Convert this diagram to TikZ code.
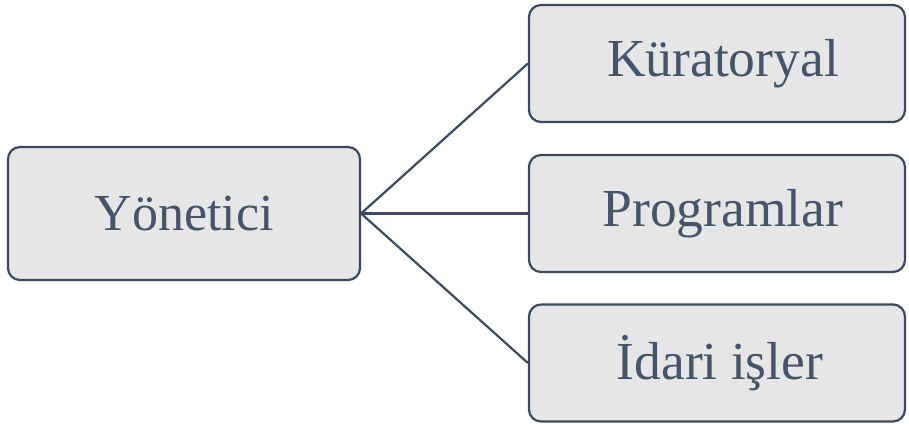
\documentclass[tikz,border=0pt]{standalone}
\usepackage{fontspec}
\setmainfont{Liberation Serif}
\definecolor{edgec}{HTML}{3B4A5E}
\definecolor{txtc}{HTML}{44546A}
\definecolor{fillc}{HTML}{E6E6E6}
\begin{document}
\begin{tikzpicture}[x=1pt,y=-1pt,
  box/.style={draw=edgec, line width=2.2pt, fill=fillc, rounded corners=12pt, text=txtc,
    font=\fontsize{52}{60}\selectfont, inner sep=0pt},
  rbox/.style={box, minimum width=376pt, minimum height=117pt, font=\fontsize{53.5}{60}\selectfont},
  conn/.style={draw=edgec, line width=2.2pt}]
\useasboundingbox (0,0) rectangle (909,423);
\node[box, minimum width=352pt, minimum height=133pt] (yon) at (184,213.5) {Yönetici};
\node[rbox] (kur) at (717,63.5) {\hspace*{12pt}Küratoryal};
\node[rbox] (pro) at (717,213.5) {\hspace*{12pt}Programlar};
\node[rbox] (ida) at (717,363) {\hspace*{6pt}İdari işler};
\draw[conn] (yon.east) -- (kur.west);
\draw[conn] (yon.east) -- (pro.west);
\draw[conn] (yon.east) -- (ida.west);
\end{tikzpicture}
\end{document}
